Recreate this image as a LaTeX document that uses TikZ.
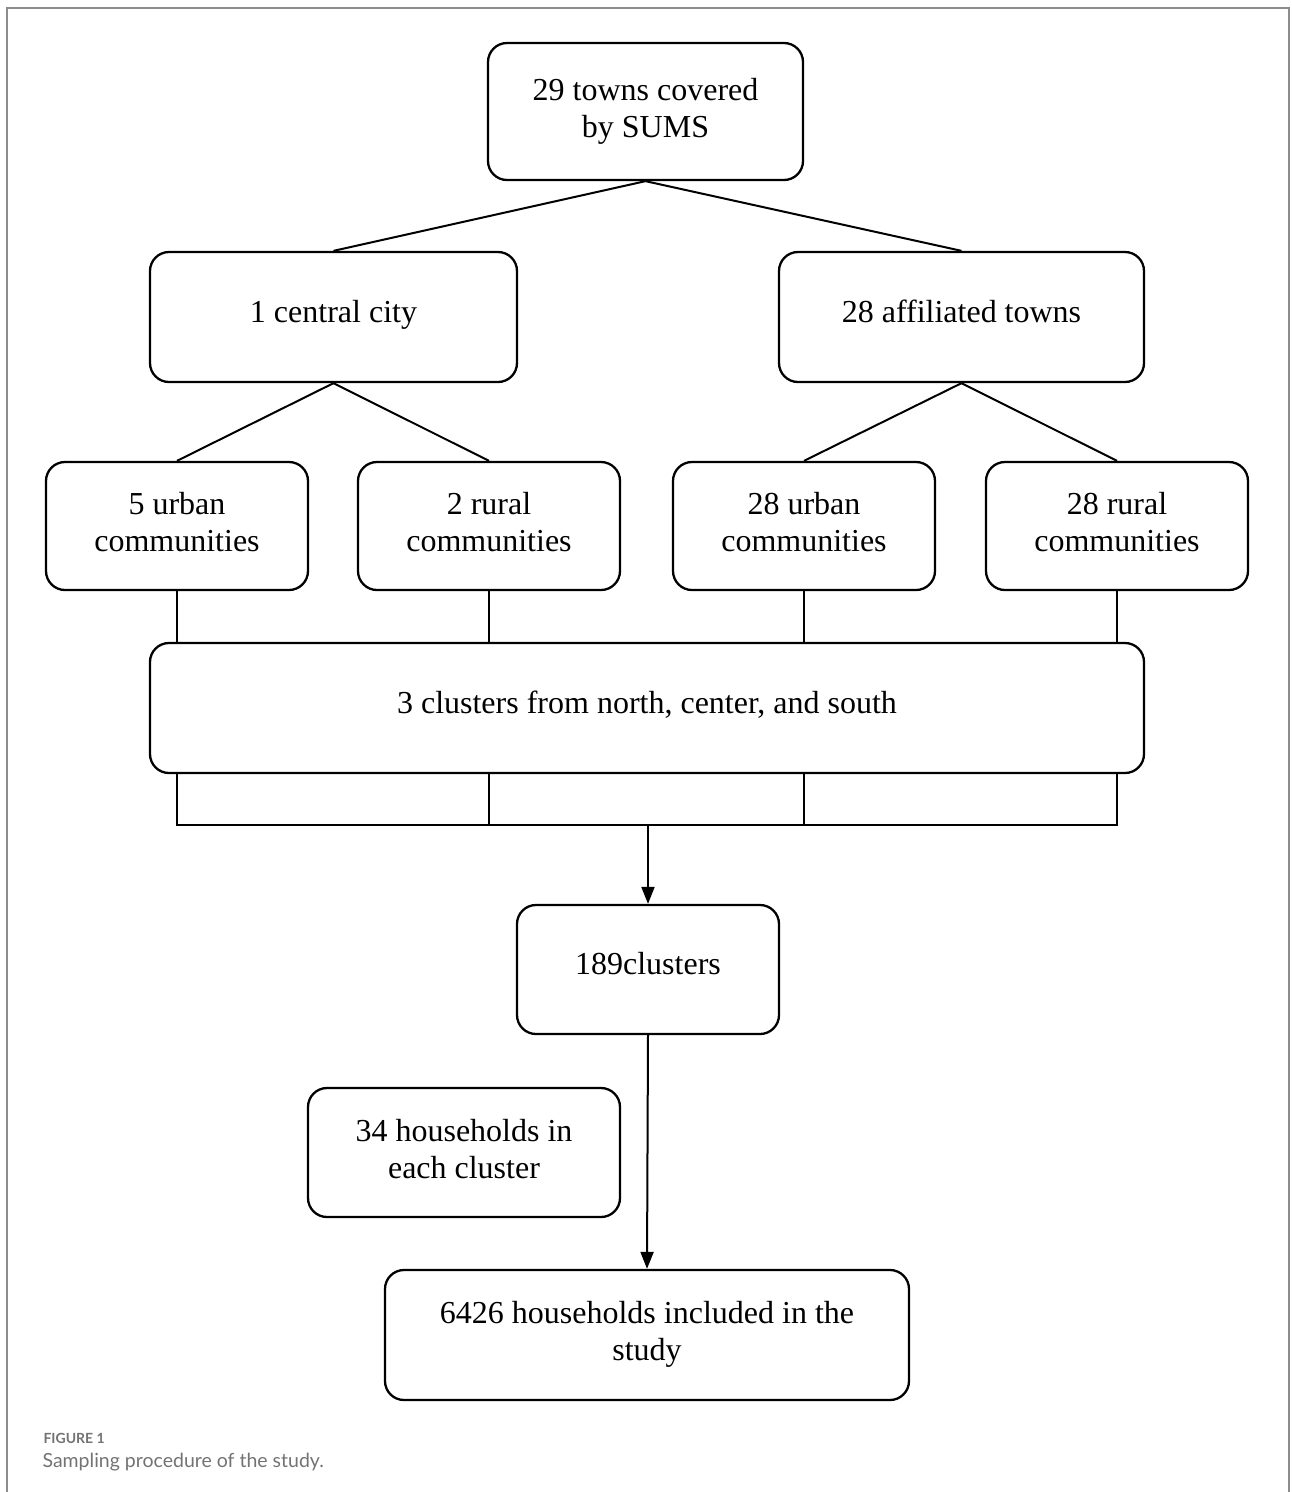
\documentclass[tikz,border=0pt]{standalone}
\usepackage{fontspec}
\setmainfont{Liberation Serif}
\newfontfamily\capfont{Lato}
\usepackage{tikz}
\usetikzlibrary{arrows.meta, positioning}

\begin{document}
\begin{tikzpicture}[
    x=1pt, y=-1pt,
    font=\fontsize{32}{37}\selectfont,
    box/.style={draw=black, line width=2.3pt, rounded corners=19pt, align=center, inner sep=0pt, text depth=8pt},
    oneline/.style={box, text height=18pt},
    link/.style={line width=2pt, draw=black},
    arrow/.style={link, -{Triangle[length=17pt, width=13pt]}}
]
\useasboundingbox (0,0) rectangle (1292,1492);
\draw[line width=1.6pt, draw=black!45] (7,1492) -- (7,8) -- (1289,8) -- (1289,1492);

% boxes
\node[box, minimum width=315pt, minimum height=137pt] (towns) at (645.5,111.5) {29 towns covered\\by SUMS};
\node[oneline, minimum width=367pt, minimum height=130pt] (central) at (333.5,317) {1 central city};
\node[oneline, minimum width=365pt, minimum height=130pt] (affiliated) at (961.5,317) {28 affiliated towns};
\node[box, minimum width=262pt, minimum height=128pt] (urbanA) at (177,526) {5 urban\\communities};
\node[box, minimum width=262pt, minimum height=128pt] (ruralA) at (489,526) {2 rural\\communities};
\node[box, minimum width=262pt, minimum height=128pt] (urbanB) at (804,526) {28 urban\\communities};
\node[box, minimum width=262pt, minimum height=128pt] (ruralB) at (1117,526) {28 rural\\communities};
\node[oneline, minimum width=994pt, minimum height=130pt] (regions) at (647,708) {3 clusters from north, center, and south};
\node[oneline, minimum width=262pt, minimum height=129pt] (clusters) at (648,969.5) {189clusters};
\node[box, minimum width=312pt, minimum height=129pt] (perclust) at (464,1152.5) {34 households in\\each cluster};
\node[box, minimum width=524pt, minimum height=130pt] (sample) at (647,1335) {6426 households included in the\\study};

% tree lines
\draw[link] (towns.south) -- (central.north);
\draw[link] (towns.south) -- (affiliated.north);
\draw[link] (central.south) -- (urbanA.north);
\draw[link] (central.south) -- (ruralA.north);
\draw[link] (affiliated.south) -- (urbanB.north);
\draw[link] (affiliated.south) -- (ruralB.north);
\foreach \c in {urbanA, ruralA, urbanB, ruralB} {
    \draw[link] (\c.south) -- (\c.south |- regions.north);
    \draw[link] (\c.south |- regions.south) -- ++(0,52);
}
\coordinate (join) at (648,825);
\draw[link] (urbanA.south |- join) -- (ruralB.south |- join);
\draw[arrow] (join) -- (clusters.north);
\draw[arrow] (clusters.south) -- (sample.north);

% caption
\node[anchor=base west, font=\capfont\bfseries\fontsize{14}{16}\selectfont, text=black!55] (figlabel) at (40,1443) {FIGURE 1};
\node[anchor=base west, font=\capfont\fontsize{19.5}{22}\selectfont, text=black!55] (figtext) at (39,1467) {Sampling procedure of the study.};
\end{tikzpicture}
\end{document}
